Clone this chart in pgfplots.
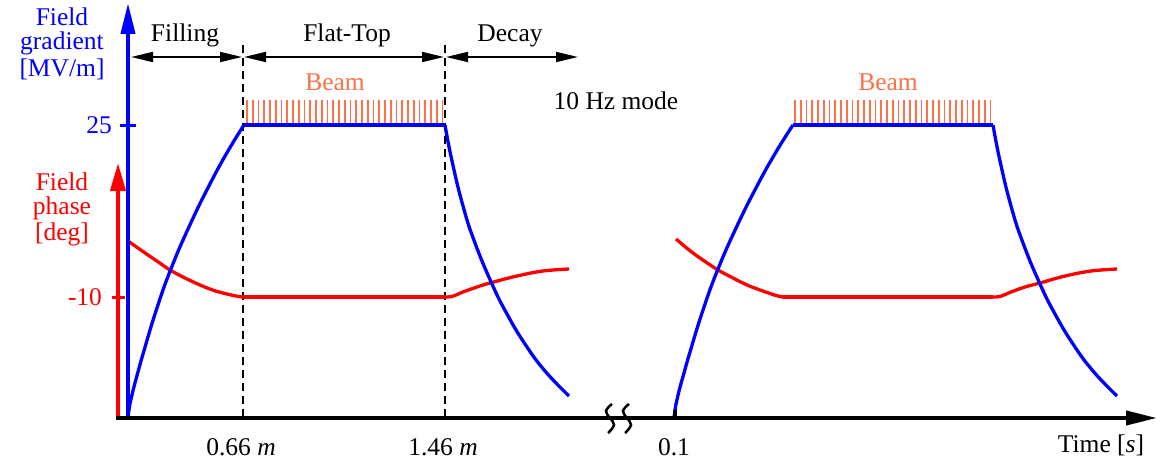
\documentclass[border=0pt]{standalone}
\usepackage{pgfplots}
\pgfplotsset{compat=1.18}
\usepackage{fontspec}
\setmainfont{Liberation Serif}
\newfontfamily\lserif{Liberation Serif}
\usetikzlibrary{arrows.meta}
\definecolor{beam}{RGB}{255,112,72}
\definecolor{fblue}{RGB}{0,0,255}
\definecolor{fred}{RGB}{255,0,0}
\tikzset{lbl/.style={font=\lserif\fontsize{25.5}{27}\selectfont, inner sep=0pt, anchor=base}}
\begin{document}
\begin{tikzpicture}
\begin{axis}[name=ax, hide axis, scale only axis, width=1170pt, height=460pt,
  xmin=0, xmax=1170, ymin=0, ymax=460, y dir=reverse, clip=false]

% dashed phase separators
\addplot[black, line width=2pt, dash pattern=on 8pt off 5pt] coordinates {(243,45) (243,418)};
\addplot[black, line width=2pt, dash pattern=on 8pt off 5pt] coordinates {(445,45) (445,418)};

% phase arrows
\addplot[black, line width=1.8pt, {Triangle[length=22pt,width=10pt]}-{Triangle[length=22pt,width=10pt]}] coordinates {(131,57) (242,57)};
\addplot[black, line width=1.8pt, {Triangle[length=22pt,width=10pt]}-{Triangle[length=22pt,width=10pt]}] coordinates {(244,57) (444,57)};
\addplot[black, line width=1.8pt, {Triangle[length=22pt,width=10pt]}-{Triangle[length=22pt,width=10pt]}] coordinates {(446,57) (578,57)};

% beam hatches
\addplot[only marks, mark=|, mark size=11.5pt, color=beam, mark options={line width=1.7pt}] coordinates {
(247,111.5) (252.75,111.5) (258.5,111.5) (264.25,111.5) (270,111.5) (275.75,111.5) (281.5,111.5) (287.25,111.5) (293,111.5) (298.75,111.5) (304.5,111.5) (310.25,111.5) (316,111.5) (321.75,111.5) (327.5,111.5) (333.25,111.5) (339,111.5) (344.75,111.5) (350.5,111.5) (356.25,111.5) (362,111.5) (367.75,111.5) (373.5,111.5) (379.25,111.5) (385,111.5) (390.75,111.5) (396.5,111.5) (402.25,111.5) (408,111.5) (413.75,111.5) (419.5,111.5) (425.25,111.5) (431,111.5) (436.75,111.5) (442.5,111.5)};
\addplot[only marks, mark=|, mark size=11.5pt, color=beam, mark options={line width=1.7pt}] coordinates {
(795,111.5) (800.75,111.5) (806.5,111.5) (812.25,111.5) (818,111.5) (823.75,111.5) (829.5,111.5) (835.25,111.5) (841,111.5) (846.75,111.5) (852.5,111.5) (858.25,111.5) (864,111.5) (869.75,111.5) (875.5,111.5) (881.25,111.5) (887,111.5) (892.75,111.5) (898.5,111.5) (904.25,111.5) (910,111.5) (915.75,111.5) (921.5,111.5) (927.25,111.5) (933,111.5) (938.75,111.5) (944.5,111.5) (950.25,111.5) (956,111.5) (961.75,111.5) (967.5,111.5) (973.25,111.5) (979,111.5) (984.75,111.5) (990.5,111.5)};

% red phase curves
\addplot[fred, line width=3.3pt, smooth, tension=0.6] coordinates {(128,241) (138,248) (148,255) (159,262.5) (170,270) (185,278) (200,285) (214,290.5) (227,294) (236,296) (243,297)};
\addplot[fred, line width=3.3pt] coordinates {(243,297) (445,297)};
\addplot[fred, line width=3.3pt, smooth, tension=0.6] coordinates {(445,297) (452,296.5) (463,292) (477,287) (490,283) (517,276) (543,271) (569,269)};
\addplot[fred, line width=3.3pt, smooth, tension=0.6] coordinates {(676,239) (684,245.8) (693,253) (705,261.5) (718,270) (733,278) (747,285) (760,290) (770,293.5) (777,295.8) (783,297)};
\addplot[fred, line width=3.3pt] coordinates {(783,297) (993,297)};
\addplot[fred, line width=3.3pt, smooth, tension=0.6] coordinates {(993,297) (1000,296.5) (1011,292) (1025,287) (1040,283) (1065,276) (1091,271) (1117,269)};

% blue gradient curves
\addplot[fblue, line width=3.3pt, smooth, tension=0.8] coordinates {(128,418) (129.9,404) (132.9,391) (137.7,373) (143.6,352) (156.3,310) (170.9,269) (189.4,226) (208.9,186) (227.4,152) (244,125)};
\addplot[fblue, line width=3.3pt] coordinates {(244,125) (445,125)};
\addplot[fblue, line width=3.3pt, smooth, tension=0.8] coordinates {(445,125) (452,161) (463,206) (475,243) (492,284) (507,314) (525,344) (545,371) (569,396)};
\addplot[fblue, line width=3.3pt, smooth, tension=0.8] coordinates {(674,418) (676,404) (679,391) (684,373) (690,352) (703,310) (718,269) (737,226) (757,186) (776,152) (793,125)};
\addplot[fblue, line width=3.3pt] coordinates {(793,125) (993,125)};
\addplot[fblue, line width=3.3pt, smooth, tension=0.8] coordinates {(993,125) (1000,161) (1011,206) (1023,243) (1040,284) (1055,314) (1073,344) (1093,371) (1117,396)};

% axes
\addplot[fred, line width=4pt, -{Triangle[length=28pt,width=15pt]}] coordinates {(118,418) (118,163)};
\addplot[fblue, line width=4pt, -{Triangle[length=31pt,width=14pt]}] coordinates {(128,418) (128,3)};
\addplot[black, line width=4pt, -{Triangle[length=31pt,width=14pt]}] coordinates {(116,418) (1157,418)};
\addplot[fblue, line width=3pt] coordinates {(120,125) (136,125)};
\addplot[fred, line width=3pt] coordinates {(112,297) (125,297)};
\addplot[black, line width=4pt] coordinates {(675,410) (675,418)};
% axis break
\addplot[black, line width=2.5pt, smooth, tension=0.7] coordinates {(612,404) (606,411) (610,418) (614,425) (608,433)};
\addplot[black, line width=2.5pt, smooth, tension=0.7] coordinates {(629,404) (623,411) (627,418) (631,425) (625,433)};

% texts
\node[lbl, text=fblue] at (62,26) {Field};
\node[lbl, text=fblue] at (62,50) {gradient};
\node[lbl, text=fblue] at (62,77) {[MV/m]};
\node[lbl, text=fred] at (62,190) {Field};
\node[lbl, text=fred] at (62,214) {phase};
\node[lbl, text=fred] at (62,240) {[deg]};
\node[lbl, text=fblue] at (99,133) {25};
\node[lbl, text=fred] at (85,305) {-10};
\node[lbl] at (185,42) {Filling};
\node[lbl] at (347,42) {Flat-Top};
\node[lbl] at (510,42) {Decay};
\node[lbl, text=beam] at (335,91) {Beam};
\node[lbl, text=beam] at (888,91) {Beam};
\node[lbl] at (616,109) {10 Hz mode};
\node[lbl] at (241,455) {0.66 \textit{m}};
\node[lbl] at (443,455) {1.46 \textit{m}};
\node[lbl] at (674,455) {0.1};
\node[lbl] at (1101,452) {Time [\textit{s}]};
\end{axis}
\pgfresetboundingbox
\path (ax.south west) rectangle (ax.north east);
\end{tikzpicture}
\end{document}
